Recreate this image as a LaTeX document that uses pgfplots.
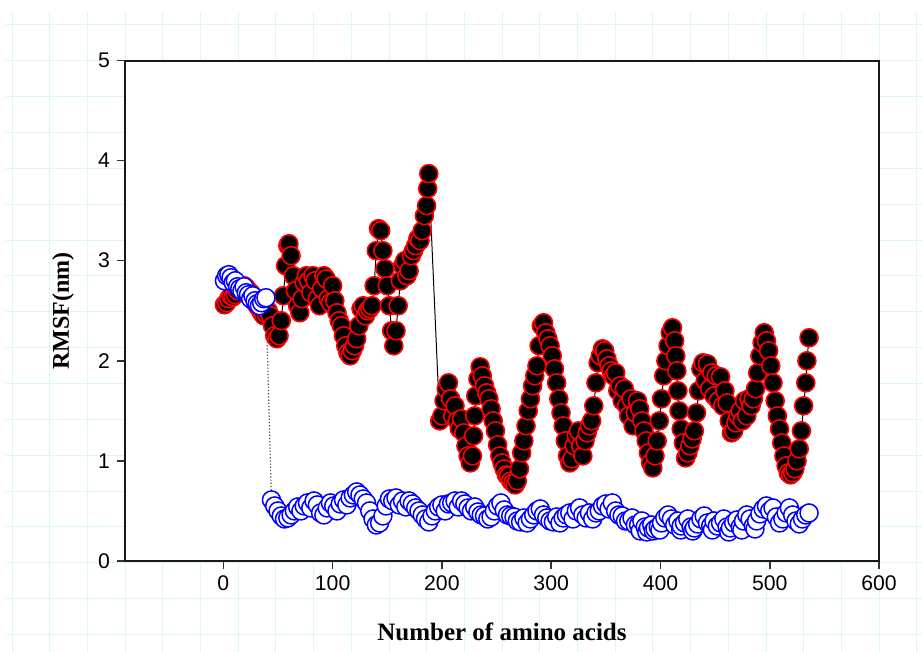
\documentclass[border=0pt]{standalone}
\usepackage{fontspec}
\setmainfont{Liberation Sans}
\newfontfamily\labelfont{Liberation Serif}
\usepackage{pgfplots}
\pgfplotsset{compat=1.18}
\definecolor{gridcyan}{RGB}{218,246,250}

\begin{document}
\begin{tikzpicture}
\useasboundingbox (0pt,0pt) rectangle (461pt,326pt);
% graph paper behind the figure
\begin{scope}[x=1pt,y=1pt]
\foreach \k in {0,...,24}
  \draw[gridcyan, line width=0.5pt] ({6+18.85*\k},0) -- ({6+18.85*\k},320);
\foreach \k in {0,...,17}
  \draw[gridcyan, line width=0.5pt] (3,{313.5-17.925*\k}) -- (461,{313.5-17.925*\k});
\end{scope}

\begin{axis}[
    at={(62.5pt,45.5pt)}, anchor=south west,
    scale only axis,
    width=377pt, height=250.25pt,
    xmin=-90, xmax=600,
    ymin=0, ymax=5,
    xtick={0,100,...,600},
    ytick={0,1,...,5},
    tick align=outside,
    xtick pos=bottom, ytick pos=left,
    major tick length=4pt,
    tick style={line width=0.8pt, black!80},
    axis line style={line width=1pt, black!90},
    axis background/.style={fill=white},
    tick label style={font=\fontsize{10.6}{12}\selectfont},
    /pgf/number format/assume math mode=true,
    xlabel={\labelfont\bfseries\fontsize{12.5}{14}\selectfont Number of amino acids},
    ylabel={\labelfont\bfseries\fontsize{12}{14}\selectfont RMSF(nm)},
    xlabel style={at={(axis description cs:0.5,-0.1419)}, anchor=center},
    ylabel style={at={(axis description cs:-0.0822,0.5)}, anchor=center},
]

% series 1: filled black circles, red edge, thin black line
\addplot[black, line width=0.5pt, mark=*, mark size=4.5pt,
    mark options={solid, fill=black, draw=red, line width=0.8pt}]
table {
x y
1 2.56
3 2.58
5 2.62
7 2.65
9 2.64
11 2.66
13 2.70
15 2.72
17 2.74
19 2.75
21 2.73
23 2.70
25 2.68
27 2.63
29 2.58
31 2.55
33 2.52
35 2.48
37 2.45
39 2.47
41 2.50
43 2.45
45 2.35
47 2.25
49 2.22
51 2.25
53 2.40
55 2.65
57 2.95
59 3.15
60 3.17
62 3.05
64 2.85
66 2.70
68 2.55
70 2.48
72 2.62
74 2.78
76 2.85
78 2.80
80 2.68
82 2.85
84 2.80
86 2.62
88 2.55
90 2.72
92 2.85
94 2.82
96 2.62
98 2.58
100 2.75
102 2.60
104 2.48
106 2.40
108 2.35
110 2.25
112 2.15
114 2.08
116 2.05
118 2.10
120 2.15
122 2.22
124 2.35
126 2.52
128 2.55
130 2.45
132 2.50
134 2.52
136 2.55
138 2.75
140 3.10
142 3.32
144 3.30
146 3.10
148 2.92
150 2.75
152 2.55
154 2.30
156 2.15
158 2.30
160 2.55
162 2.80
164 2.95
166 3.00
168 2.85
170 2.90
172 3.05
174 3.10
176 3.15
178 3.22
180 3.20
182 3.30
184 3.45
186 3.55
187 3.72
188 3.87
198 1.40
200 1.45
202 1.60
204 1.72
206 1.78
208 1.62
210 1.45
212 1.55
214 1.40
216 1.32
218 1.42
220 1.28
222 1.15
224 1.05
226 0.98
228 1.05
229 1.25
230 1.45
231 1.65
233 1.82
235 1.94
237 1.85
239 1.75
241 1.68
243 1.62
245 1.52
247 1.40
249 1.30
251 1.16
253 1.05
255 0.98
257 0.92
259 0.86
261 0.85
263 0.80
265 0.78
267 0.76
269 0.80
271 0.92
273 1.08
275 1.20
277 1.35
279 1.50
281 1.62
283 1.75
285 1.85
287 1.95
289 2.15
291 2.35
293 2.38
295 2.28
297 2.22
299 2.15
301 2.05
303 1.92
305 1.78
307 1.62
309 1.48
311 1.35
313 1.20
315 1.05
317 0.98
319 1.02
321 1.15
323 1.25
325 1.30
327 1.15
329 1.05
331 1.20
333 1.28
335 1.35
337 1.40
339 1.55
341 1.78
343 1.98
345 2.05
347 2.12
349 2.10
351 2.02
353 1.95
355 1.90
357 1.85
359 1.88
361 1.70
363 1.75
365 1.60
367 1.72
369 1.55
371 1.45
373 1.62
375 1.35
377 1.48
379 1.60
381 1.52
383 1.40
385 1.30
387 1.20
389 1.08
391 0.98
393 0.93
395 1.05
397 1.20
399 1.40
401 1.62
403 1.85
405 2.00
407 2.15
409 2.28
411 2.33
413 2.20
414 2.05
415 1.90
416 1.70
417 1.50
419 1.32
421 1.18
423 1.03
425 1.08
427 1.15
429 1.22
431 1.30
433 1.48
435 1.70
437 1.92
439 1.98
441 1.80
443 1.97
445 1.72
447 1.88
449 1.65
451 1.85
453 1.60
455 1.84
457 1.55
459 1.70
461 1.58
463 1.40
465 1.28
467 1.30
469 1.38
471 1.45
473 1.50
475 1.40
477 1.60
479 1.45
481 1.62
483 1.55
485 1.62
487 1.72
489 1.88
491 2.05
493 2.18
495 2.28
497 2.20
499 2.10
501 1.95
503 1.78
505 1.60
507 1.45
509 1.32
511 1.18
513 1.05
515 0.95
517 0.88
519 0.86
521 0.88
523 0.92
525 1.00
527 1.12
529 1.30
531 1.55
533 1.78
534 2.00
536 2.23
};

% series 2: open blue circles, dotted line
\addplot[black!70, densely dotted, line width=0.6pt, mark=*, mark size=4.5pt,
    mark options={solid, fill=white, draw=blue, line width=0.75pt}]
table {
x y
1 2.80
3 2.85
5 2.86
7 2.83
9 2.78
11 2.80
13 2.74
15 2.72
17 2.70
19 2.74
21 2.68
23 2.66
25 2.62
27 2.65
29 2.60
31 2.57
33 2.55
35 2.58
37 2.62
39 2.63
44 0.61
47 0.55
50 0.50
53 0.45
56 0.42
59 0.43
62 0.46
65 0.50
68 0.54
71 0.50
74 0.55
77 0.58
80 0.53
83 0.60
86 0.56
89 0.48
92 0.46
95 0.53
98 0.58
101 0.55
104 0.50
107 0.57
110 0.61
113 0.56
116 0.63
119 0.66
122 0.69
125 0.66
128 0.62
131 0.58
134 0.50
137 0.42
140 0.36
143 0.38
146 0.45
149 0.55
152 0.62
155 0.60
158 0.63
161 0.56
164 0.60
167 0.54
170 0.60
173 0.57
176 0.53
179 0.50
182 0.46
185 0.42
188 0.39
191 0.45
194 0.50
197 0.54
200 0.56
203 0.50
206 0.57
209 0.58
212 0.60
215 0.54
218 0.60
221 0.57
224 0.53
227 0.50
230 0.54
233 0.49
236 0.46
239 0.45
242 0.42
245 0.44
248 0.50
251 0.55
254 0.58
257 0.51
260 0.46
263 0.45
266 0.44
269 0.40
272 0.39
275 0.43
278 0.38
281 0.42
284 0.46
287 0.50
290 0.52
293 0.46
296 0.43
299 0.40
302 0.39
305 0.44
308 0.38
311 0.43
314 0.46
317 0.48
320 0.42
323 0.50
326 0.53
329 0.46
332 0.43
335 0.48
338 0.42
341 0.48
344 0.50
347 0.55
350 0.57
353 0.52
356 0.58
359 0.50
362 0.46
365 0.45
368 0.40
371 0.40
374 0.43
377 0.36
380 0.36
381.5 0.30
383 0.40
386 0.34
387.5 0.29
389 0.33
392 0.36
393.5 0.30
395 0.32
398 0.34
399.5 0.31
401 0.38
404 0.43
407 0.46
410 0.42
413 0.36
416 0.40
418.5 0.31
419 0.35
422 0.38
425 0.42
428 0.34
429.5 0.30
431 0.33
434 0.37
437 0.42
440 0.45
443 0.38
446 0.35
447.5 0.31
449 0.40
452 0.35
455 0.38
458 0.42
461 0.34
462.5 0.29
464 0.33
467 0.38
470 0.41
473 0.34
474.5 0.31
476 0.40
479 0.46
482 0.42
485 0.35
486.5 0.32
488 0.40
491 0.47
494 0.52
497 0.55
500 0.50
503 0.53
506 0.44
509 0.38
512 0.42
515 0.48
518 0.53
521 0.46
524 0.40
527 0.37
530 0.42
533 0.46
536 0.48
};

\end{axis}
\end{tikzpicture}
\end{document}
